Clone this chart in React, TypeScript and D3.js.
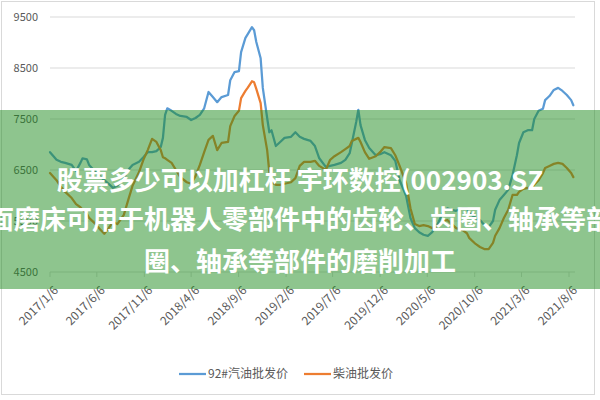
import React from 'react';
import * as d3 from 'd3';

const dates = [
  '2017-01-06','2017-01-27','2017-02-10','2017-02-24','2017-03-17','2017-03-31','2017-04-14','2017-04-21','2017-05-05','2017-05-12',
  '2017-06-02','2017-06-16','2017-06-30','2017-07-14','2017-07-28','2017-08-11','2017-09-01','2017-09-15','2017-09-29','2017-10-20',
  '2017-11-03','2017-11-17','2017-12-01','2017-12-15','2017-12-29','2018-01-05','2018-01-12','2018-01-19','2018-02-02','2018-02-16',
  '2018-03-02','2018-03-23','2018-04-06','2018-04-20','2018-05-04','2018-05-18','2018-06-01','2018-06-15','2018-06-29','2018-07-13',
  '2018-08-03','2018-08-10','2018-08-24','2018-09-07','2018-09-14','2018-09-28','2018-10-05','2018-10-19','2018-10-26','2018-11-02',
  '2018-11-16','2018-11-23','2018-12-07','2018-12-14','2018-12-21','2019-01-04','2019-01-18','2019-02-01','2019-02-22','2019-03-08',
  '2019-03-22','2019-04-05','2019-04-26','2019-05-10','2019-05-24','2019-06-14','2019-06-28','2019-07-12','2019-08-02','2019-08-16',
  '2019-08-30','2019-09-06','2019-09-20','2019-09-27','2019-10-04','2019-10-18','2019-11-01','2019-11-22','2019-12-06','2019-12-20',
  '2020-01-10','2020-01-24','2020-02-07','2020-02-28','2020-03-13','2020-03-27','2020-04-10','2020-04-24','2020-05-08','2020-05-22',
  '2020-06-12','2020-06-26','2020-07-10','2020-07-24','2020-08-07','2020-08-28','2020-09-11','2020-09-18','2020-10-09','2020-10-23',
  '2020-11-06','2020-11-20','2020-12-04','2020-12-11','2020-12-25','2021-01-08','2021-01-22','2021-02-05','2021-02-19','2021-02-26',
  '2021-03-12','2021-03-26','2021-04-09','2021-04-16','2021-04-30','2021-05-14','2021-05-21','2021-06-04','2021-06-18','2021-07-02',
  '2021-07-16','2021-07-30','2021-08-13','2021-08-20'
];

const gasoline92 = [
  6850,6700,6660,6640,6600,6480,6640,6730,6710,6600,
  6460,6380,6300,6230,6150,6190,6340,6500,6600,6660,
  6750,6850,6850,6870,6950,7130,7580,7710,7660,7600,
  7560,7540,7480,7520,7580,7710,8030,7930,7830,7930,
  7970,8260,8420,8440,8810,9090,9160,9300,9240,9010,
  8690,8110,7520,7240,7280,6970,7050,7130,7150,7240,
  7150,7110,7070,6970,6730,6560,6580,6600,6640,6700,
  6830,7030,7440,7680,7380,7090,6930,6790,6810,6850,
  6790,6680,6300,5990,5560,5360,5280,5230,5210,5280,
  5480,5680,5750,5720,5700,5750,5750,5660,5560,5520,
  5420,5380,5500,5720,5910,6010,6110,6400,6790,7030,
  7240,7280,7280,7500,7660,7700,7870,7950,8070,8110,
  8050,7970,7870,7770
];

const diesel = [
  6440,6300,6170,6070,5950,5830,5770,5720,5640,5560,
  5440,5340,5250,5360,5480,5440,5620,5910,6190,6460,
  6700,6890,7110,7050,6890,6750,6730,6700,6640,6500,
  6360,6260,6230,6380,6600,6850,7090,7170,6890,7030,
  7050,7360,7560,7660,7910,8050,8110,8240,8220,8090,
  7810,7380,6890,6460,6260,6210,6210,6230,6260,6340,
  6580,6660,6660,6680,6580,6500,6700,6770,6850,6910,
  6970,7070,7110,7130,7050,6850,6720,6770,6850,6950,
  6930,6790,6580,6240,5750,5440,5400,5420,5400,5360,
  5420,5500,5520,5440,5360,5320,5260,5170,5050,4990,
  4950,4950,5070,5210,5360,5560,5720,6010,6010,6070,
  6130,6150,6150,6210,6300,6440,6540,6580,6620,6640,
  6620,6540,6440,6360
];

const yTicks = [4500, 5500, 6500, 7500, 8500, 9500];
const xTickLabels = [
  '2017/1/6','2017/6/6','2017/11/6','2018/4/6','2018/9/6','2019/2/6',
  '2019/7/6','2019/12/6','2020/5/6','2020/10/6','2021/3/6','2021/8/6'
];
const seriesNames = ['92#汽油批发价', '柴油批发价'];
const seriesColors = ['#5B9BD5', '#ED7D31'];
const bannerLines = [
  '股票多少可以加杠杆 宇环数控(002903.SZ',
  '面磨床可用于机器人零部件中的齿轮、齿圈、轴承等部',
  '圈、轴承等部件的磨削加工'
];

const FONT = '"Noto Sans CJK SC", "Noto Sans", sans-serif';

export default function App() {
  const parseDate = d3.timeParse('%Y-%m-%d');
  const parseTick = d3.timeParse('%Y/%m/%d');
  const pts = dates.map((d) => parseDate(d) as Date);
  const tickDates = xTickLabels.map((d) => parseTick(d) as Date);

  const x = d3.scaleTime().domain([tickDates[0], tickDates[tickDates.length - 1]]).range([50, 569]);
  const y = d3.scaleLinear().domain([4500, 9500]).range([272, 17]);

  const line = d3
    .line<number>()
    .x((_, i) => x(pts[i]))
    .y((d) => y(d));

  const series = [gasoline92, diesel];
  const legendX = [179, 304];
  const bannerY = [190, 229, 271];

  return (
    <svg
      width={600}
      height={400}
      style={{ position: 'absolute', left: 0, top: 0, display: 'block' }}
      fontFamily={FONT}
    >
      <rect x={0} y={0} width={600} height={400} fill="#ffffff" />
      <rect x={1.5} y={1.5} width={593} height={393} fill="none" stroke="#d9d9d9" strokeWidth={1} />

      {yTicks.map((t) => (
        <g key={t}>
          <line x1={50} x2={575} y1={y(t)} y2={y(t)} stroke="#d9d9d9" strokeWidth={1} />
          <text x={38} y={y(t)} dy="0.35em" textAnchor="end" fontSize={11} fill="#595959">
            {t}
          </text>
        </g>
      ))}

      {tickDates.map((d, i) => (
        <g key={xTickLabels[i]}>
          <line x1={x(d)} x2={x(d)} y1={272} y2={277} stroke="#d9d9d9" strokeWidth={1} />
          <text
            transform={`translate(${x(d) + 6},${288}) rotate(-45)`}
            textAnchor="end"
            dy="0.35em"
            fontSize={12}
            fill="#595959"
          >
            {xTickLabels[i]}
          </text>
        </g>
      ))}

      {series.map((s, i) => (
        <path
          key={seriesNames[i]}
          d={line(s) || ''}
          fill="none"
          stroke={seriesColors[i]}
          strokeWidth={2.25}
          strokeLinejoin="round"
          strokeLinecap="round"
        />
      ))}

      {seriesNames.map((n, i) => (
        <g key={n}>
          <line x1={legendX[i]} x2={legendX[i] + 27} y1={374} y2={374} stroke={seriesColors[i]} strokeWidth={2.25} />
          <text x={legendX[i] + 29} y={374} dy="0.35em" fontSize={12} fill="#595959">
            {n}
          </text>
        </g>
      ))}

      <rect x={0} y={110} width={600} height={179} fill="#1e8c1e" fillOpacity={0.5} />

      {bannerLines.map((t, i) => (
        <text
          key={i}
          x={300}
          y={bannerY[i]}
          textAnchor="middle"
          fontSize={26}
          fontWeight="bold"
          fill="#ffffff"
        >
          {t}
        </text>
      ))}
    </svg>
  );
}
